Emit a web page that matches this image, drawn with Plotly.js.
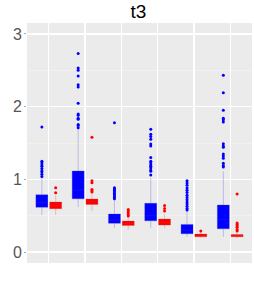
<!DOCTYPE html>
<html><head><meta charset="utf-8">
<script src="https://cdn.plot.ly/plotly-3.0.1.min.js"></script>
<style>html,body{margin:0;padding:0;background:#fff}#chart{width:254px;height:282px}</style>
</head><body><div id="chart"></div>
<script>
const groups = [1, 2, 3, 4, 5, 6];

const blueQ1  = [0.615, 0.733, 0.395, 0.43, 0.252, 0.32];
const blueMed = [0.68, 0.853, 0.44, 0.50, 0.30, 0.45];
const blueQ3  = [0.788, 1.114, 0.523, 0.67, 0.38, 0.647];
const blueLo  = [0.51, 0.62, 0.33, 0.335, 0.21, 0.21];
const blueHi  = [1.02, 1.69, 0.72, 1.02, 0.56, 1.11];

const redQ1  = [0.596, 0.656, 0.367, 0.371, 0.21, 0.21];
const redMed = [0.64, 0.70, 0.39, 0.41, 0.23, 0.225];
const redQ3  = [0.688, 0.729, 0.426, 0.454, 0.248, 0.243];
const redLo  = [0.51, 0.564, 0.31, 0.33, 0.195, 0.195];
const redHi  = [0.78, 0.79, 0.48, 0.52, 0.28, 0.27];

const blueOut = [
  [1.72, 1.25, 1.23, 1.2, 1.18, 1.15, 1.12, 1.1, 1.07, 1.04],
  [2.73, 2.53, 2.50, 2.42, 2.30, 2.27, 2.045, 1.90, 1.88, 1.84, 1.825, 1.756, 1.74, 1.71],
  [1.78, 0.885, 0.87, 0.85, 0.83, 0.81, 0.79, 0.77, 0.75, 0.735],
  [1.69, 1.62, 1.59, 1.55, 1.486, 1.46, 1.30, 1.25, 1.23, 1.20, 1.18, 1.16, 1.13, 1.11, 1.06],
  [0.98, 0.95, 0.92, 0.88, 0.85, 0.82, 0.78, 0.75, 0.72, 0.69, 0.66, 0.63, 0.60, 0.58],
  [2.43, 2.19, 1.95, 1.84, 1.82, 1.79, 1.49, 1.46, 1.44, 1.35, 1.32, 1.29, 1.22, 1.19, 1.17]
];
const redOut = [
  [0.885, 0.816],
  [1.578, 0.98, 0.953, 0.862, 0.843, 0.825],
  [0.587, 0.565, 0.54, 0.515, 0.495],
  [0.642, 0.60, 0.564],
  [0.29],
  [0.80, 0.40, 0.38, 0.36, 0.34, 0.31, 0.29]
];

const OFF = 0.19, W = 0.33;

function boxTrace(q1, med, q3, lo, hi, off, fill, line) {
  return {
    type: 'box', x: groups.map(g => g + off),
    q1: q1, median: med, q3: q3, lowerfence: lo, upperfence: hi,
    width: W, fillcolor: fill, line: {color: line, width: 1},
    boxpoints: false, whiskerwidth: 0, hoverinfo: 'skip', showlegend: false
  };
}
function outTrace(out, off, color) {
  const xs = [], ys = [];
  out.forEach((arr, i) => arr.forEach(v => { xs.push(groups[i] + off); ys.push(v); }));
  return {type: 'scatter', mode: 'markers', x: xs, y: ys,
    marker: {color: color, size: 3}, hoverinfo: 'skip', showlegend: false};
}

const data = [
  boxTrace(blueQ1, blueMed, blueQ3, blueLo, blueHi, -OFF, 'blue', 'rgba(60,60,200,0.28)'),
  boxTrace(redQ1, redMed, redQ3, redLo, redHi, OFF, 'red', 'rgba(200,60,60,0.28)'),
  outTrace(blueOut, -OFF, 'blue'),
  outTrace(redOut, OFF, 'red')
];

const layout = {
  width: 254, height: 282,
  margin: {l: 27, r: 2, t: 23, b: 19},
  paper_bgcolor: '#ffffff', plot_bgcolor: '#EBEBEB',
  font: {family: 'Liberation Sans, Arial, sans-serif', color: '#4D4D4D'},
  title: {text: 't3', x: 0.545, xanchor: 'center', y: 0.96, yanchor: 'middle',
    font: {size: 19, color: '#000000', family: 'Liberation Sans, Arial, sans-serif'}},
  xaxis: {range: [0.4, 6.6], tickvals: groups, showticklabels: false,
    showgrid: true, gridcolor: '#ffffff', gridwidth: 1.2, zeroline: false,
    ticks: '', showline: false, fixedrange: true},
  yaxis: {range: [-0.15, 3.15], tickvals: [0, 1, 2, 3], ticktext: ['0', '1', '2', '3'],
    showgrid: true, gridcolor: '#ffffff', gridwidth: 1.2, zeroline: false,
    ticks: 'outside', ticklen: 2, tickcolor: '#aaaaaa', tickwidth: 1,
    ticklabelstandoff: -1,
    tickfont: {size: 16, color: '#555555'},
    minor: {dtick: 0.5, tick0: 0, showgrid: true, gridcolor: '#F5F5F5', gridwidth: 0.6, ticks: ''},
    showline: false, fixedrange: true}
};

Plotly.newPlot('chart', data, layout, {staticPlot: true, displayModeBar: false});
</script>
</body></html>
